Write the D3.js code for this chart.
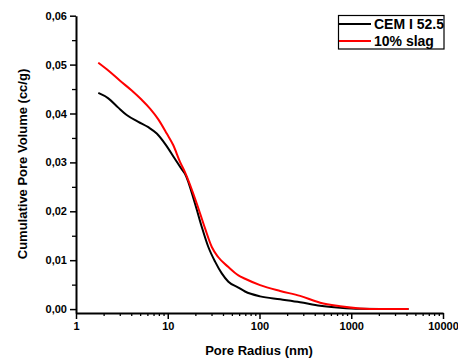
<!DOCTYPE html>
<html>
<head>
<meta charset="utf-8">
<script src="https://cdn.jsdelivr.net/npm/d3@7"></script>
<style>
  body { margin: 0; background: #fff; }
  text { font-family: "Liberation Sans", Arial, sans-serif; font-weight: bold; }
</style>
</head>
<body>
<div id="chart"></div>
<script>
// pore radius (nm) and cumulative pore volume (cc/g)
var cemRadius = [1.75, 2.25, 2.89, 3.57, 4.78, 6.14, 7.59, 9.35, 12.0, 14.2, 15.4, 19.8, 23.5, 27.7, 32.8, 38.8, 45.8, 58.9, 69.6, 101.5, 168, 277, 458, 757, 1250, 2500, 4210];
var cemVolume = [0.0442, 0.0431, 0.0412, 0.0397, 0.0383, 0.0372, 0.0359, 0.0338, 0.0307, 0.0286, 0.0277, 0.0216, 0.0168, 0.0127, 0.0097, 0.0073, 0.0056, 0.0044, 0.0036, 0.0026, 0.0020, 0.0014, 0.00068, 0.00027, 0.00005, 0.0, 0.0];

var slagRadius = [1.75, 2.25, 3.02, 4.05, 5.20, 6.41, 7.89, 9.75, 11.5, 13.6, 15.4, 20.7, 25.5, 30.2, 35.6, 45.8, 58.9, 69.6, 101.5, 168, 277, 458, 757, 1250, 2000, 4210];
var slagVolume = [0.0504, 0.0488, 0.0467, 0.0447, 0.0428, 0.0410, 0.0388, 0.0359, 0.0335, 0.0301, 0.0280, 0.0216, 0.0165, 0.0127, 0.0106, 0.0086, 0.0069, 0.0062, 0.0049, 0.0037, 0.0027, 0.0013, 0.0006, 0.00014, 0.0, 0.0];

var seriesNames = ["CEM I 52.5", "10% slag"];
var seriesColors = ["#000000", "#ff0000"];

var yMajor = [0, 0.01, 0.02, 0.03, 0.04, 0.05, 0.06];
var yMinor = [0.005, 0.015, 0.025, 0.035, 0.045, 0.055];
var xMajor = [1, 10, 100, 1000, 10000];

var width = 458, height = 363;

var svg = d3.select("#chart")
  .append("svg")
  .attr("width", width)
  .attr("height", height);

var x = d3.scaleLog()
  .domain([1, 10000])
  .range([76, 443]);

var y = d3.scaleLinear()
  .domain([-0.0008, 0.06])
  .range([313, 15.7]);

// minor log ticks
var xMinor = [];
[1, 10, 100, 1000].forEach(function(p) {
  for (var k = 2; k <= 9; k++) xMinor.push(p * k);
});

var fmt = function(d) { return d3.format(".2f")(d).replace(".", ","); };

// x axis
svg.append("g")
  .attr("transform", "translate(0,313)")
  .call(d3.axisBottom(x).tickValues(xMinor).tickSize(3).tickFormat(""))
  .call(function(g) { g.select(".domain").remove(); })
  .selectAll("line").attr("stroke-width", 1.3);

var xAxis = svg.append("g")
  .attr("transform", "translate(0,313)")
  .call(d3.axisBottom(x).tickValues(xMajor).tickSize(6).tickSizeOuter(0).tickPadding(3).tickFormat(d3.format("d")));
xAxis.select(".domain").attr("stroke-width", 2);
xAxis.selectAll("line").attr("stroke-width", 1.5);
xAxis.selectAll("text").style("font-size", "11px").attr("fill", "#000");

// y axis
svg.append("g")
  .attr("transform", "translate(76,0)")
  .call(d3.axisLeft(y).tickValues(yMinor).tickSize(4).tickFormat(""))
  .call(function(g) { g.select(".domain").remove(); })
  .selectAll("line").attr("stroke-width", 1.3);

var yAxis = svg.append("g")
  .attr("transform", "translate(76,0)")
  .call(d3.axisLeft(y).tickValues(yMajor).tickSize(6).tickSizeOuter(0).tickPadding(3).tickFormat(fmt));
yAxis.select(".domain").attr("stroke-width", 2);
yAxis.selectAll("line").attr("stroke-width", 1.5);
yAxis.selectAll("text").style("font-size", "11px").attr("fill", "#000");

// axis titles
svg.append("text")
  .attr("x", 259)
  .attr("y", 355)
  .attr("text-anchor", "middle")
  .style("font-size", "13px")
  .text("Pore Radius (nm)");

svg.append("text")
  .attr("transform", "translate(27,164) rotate(-90)")
  .attr("text-anchor", "middle")
  .style("font-size", "13px")
  .text("Cumulative Pore Volume (cc/g)");

// curves
var line = d3.line()
  .x(function(d) { return x(d[0]); })
  .y(function(d) { return y(d[1]); })
  .curve(d3.curveMonotoneX);

var series = [
  d3.zip(cemRadius, cemVolume),
  d3.zip(slagRadius, slagVolume)
];

series.forEach(function(s, i) {
  svg.append("path")
    .datum(s)
    .attr("d", line)
    .attr("fill", "none")
    .attr("stroke", seriesColors[i])
    .attr("stroke-width", 2);
});

// legend
var legend = svg.append("g");
legend.append("rect")
  .attr("x", 338.5)
  .attr("y", 15.5)
  .attr("width", 105.5)
  .attr("height", 33.5)
  .attr("fill", "#fff")
  .attr("stroke", "#000")
  .attr("stroke-width", 1.2);

seriesNames.forEach(function(name, i) {
  var ly = 24 + i * 17;
  legend.append("line")
    .attr("x1", 339)
    .attr("x2", 371)
    .attr("y1", ly)
    .attr("y2", ly)
    .attr("stroke", seriesColors[i])
    .attr("stroke-width", 2);
  legend.append("text")
    .attr("x", 374)
    .attr("y", ly + 5)
    .style("font-size", "14px")
    .text(name);
});
</script>
</body>
</html>
